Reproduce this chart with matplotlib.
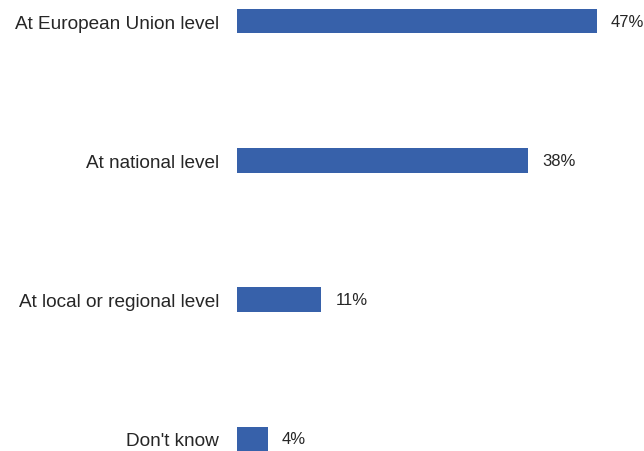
import matplotlib
matplotlib.use("Agg")
import matplotlib.pyplot as plt

categories = ["At European Union level", "At national level", "At local or regional level", "Don't know"]
values = [47, 38, 11, 4]
value_labels = ["47%", "38%", "11%", "4%"]

plt.rcParams['font.family'] = ['Liberation Sans', 'DejaVu Sans']

W, H = 644, 452
fig = plt.figure(figsize=(W/100, H/100), dpi=100)
ax = fig.add_axes([237/W, 0, 1 - 237/W, 1])

pos = list(range(len(categories)))
ax.barh(pos, values, height=0.175, color="#3761AA", edgecolor="none")
per = 139.33
ax.set_ylim(3 + 12/per, -22/per)
ax.set_xlim(0, (W - 237)/7.66)

ax.set_yticks(pos)
ax.set_yticklabels(categories, fontsize=13.7, color="#262626")
ax.tick_params(axis='y', length=0, pad=13)
ax.set_xticks([])
for s in ax.spines.values():
    s.set_visible(False)

for p, v, lab in zip(pos, values, value_labels):
    ax.annotate(lab, (v, p), xytext=(14, 0), textcoords="offset pixels",
                va="center", ha="left", fontsize=12, color="#262626")

fig.savefig("out.png", dpi=100)
